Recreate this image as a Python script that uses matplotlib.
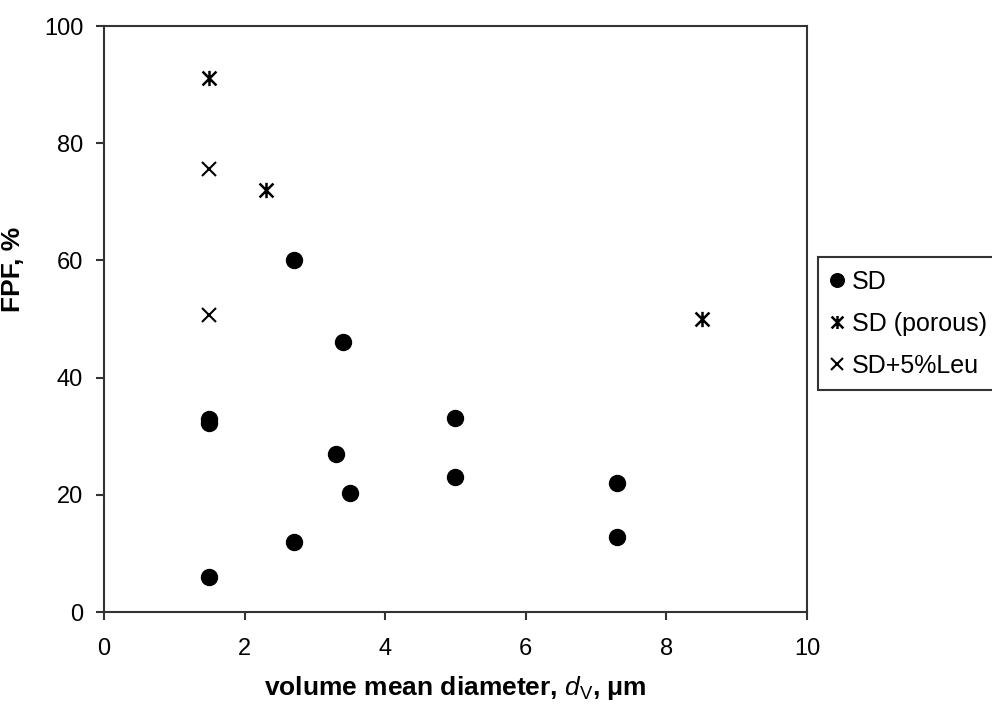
import matplotlib
matplotlib.use("Agg")
import matplotlib.pyplot as plt
from matplotlib.path import Path

plt.rcParams['font.family'] = ['Liberation Sans', 'DejaVu Sans']
plt.rcParams['mathtext.fontset'] = 'custom'
plt.rcParams['mathtext.rm'] = 'Liberation Sans'
plt.rcParams['mathtext.it'] = 'Liberation Sans:italic'
plt.rcParams['mathtext.bf'] = 'Liberation Sans:bold'

# data
sd_x = [1.5, 1.5, 1.5, 2.7, 2.7, 3.3, 3.4, 3.5, 5.0, 5.0, 7.3, 7.3]
sd_y = [6.0, 32.3, 33.0, 11.9, 60.1, 27.0, 46.1, 20.3, 33.1, 23.0, 22.0, 12.8]
porous_x = [1.5, 2.3, 8.5]
porous_y = [91.1, 72.0, 50.0]
leu_x = [1.5, 1.5]
leu_y = [75.6, 50.7]
x_ticks = [0, 2, 4, 6, 8, 10]
y_ticks = [0, 20, 40, 60, 80, 100]

# star marker: x with a vertical bar
star = Path([(-1, -1), (1, 1), (-1, 1), (1, -1), (0, -1.1), (0, 1.1)],
            [Path.MOVETO, Path.LINETO, Path.MOVETO, Path.LINETO,
             Path.MOVETO, Path.LINETO])

fig = plt.figure(figsize=(9.92, 7.11), dpi=100)
ax = fig.add_axes([0.1048, 0.1392, 0.7087, 0.8242])

ax.plot(sd_x, sd_y, linestyle='none', marker='o', markersize=11.5,
        color='black', label='SD')
ax.plot(porous_x, porous_y, linestyle='none', marker=star, markersize=11,
        markeredgewidth=1.8, color='black', label='SD (porous)')
ax.plot(leu_x, leu_y, linestyle='none', marker='x', markersize=10,
        markeredgewidth=1.5, color='black', label='SD+5%Leu')

ax.set_xlim(0, 10)
ax.set_ylim(0, 100)
ax.set_xticks(x_ticks)
ax.set_yticks(y_ticks)
ax.tick_params(axis='both', direction='out', length=6, width=1.5,
               labelsize=17, color='#333333')
ax.tick_params(axis='x', pad=13)
ax.tick_params(axis='y', pad=9)
for sp in ax.spines.values():
    sp.set_linewidth(1.5)
    sp.set_color('#333333')

ax.set_xlabel(r'volume mean diameter, $d_{\mathrm{V}}$, μm',
              fontsize=19, fontweight='bold')
ax.set_ylabel('FPF, %', fontsize=19, fontweight='bold')
ax.xaxis.set_label_coords(0.5, -0.105)
ax.yaxis.set_label_coords(-0.112, 0.584)

leg = ax.legend(loc='upper left', bbox_to_anchor=(0.8246, 0.6385),
                bbox_transform=fig.transFigure, fontsize=18, frameon=True,
                fancybox=False, handlelength=0.55, handletextpad=0.3,
                borderpad=0.5, labelspacing=0.72, borderaxespad=0,
                markerscale=0.85)
leg.get_frame().set_edgecolor('black')
leg.get_frame().set_linewidth(1.5)

fig.savefig('out.png', dpi=100)
